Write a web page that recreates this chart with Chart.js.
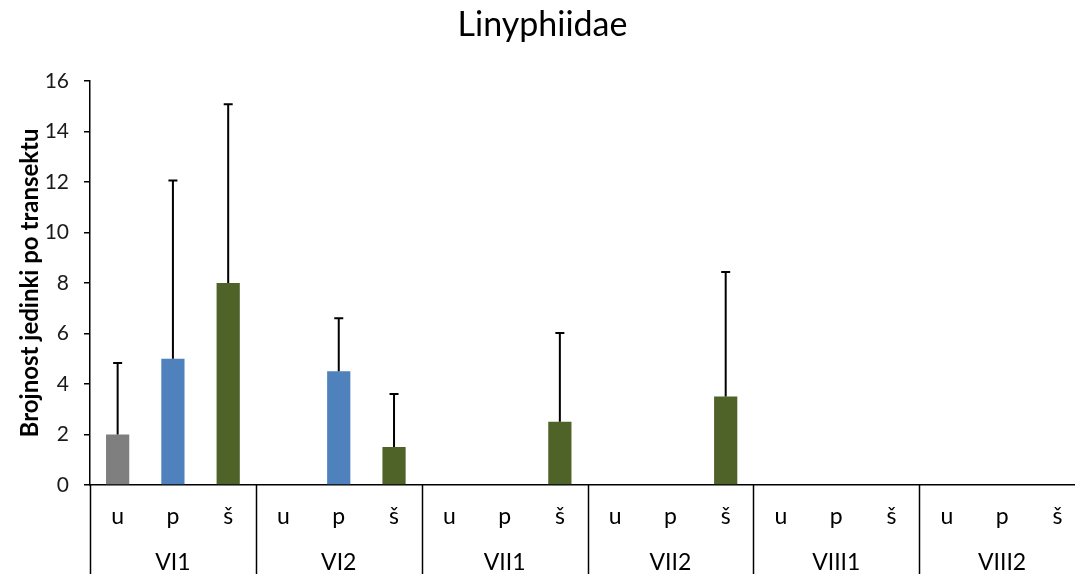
<!DOCTYPE html>
<html>
<head>
<meta charset="utf-8">
<script src="https://cdn.jsdelivr.net/npm/chart.js@4/dist/chart.umd.min.js"></script>
<style>
  html, body { margin: 0; padding: 0; background: #fff; overflow: hidden; }
  #wrap { width: 1085px; height: 574px; }
</style>
</head>
<body>
<div id="wrap"><canvas id="chart-bar"></canvas></div>
<script>
// grupe i lokacije
var groups = ["VI1", "VI2", "VII1", "VII2", "VIII1", "VIII2"];
var sites = ["u", "p", "š"];
var yTicks = [0, 2, 4, 6, 8, 10, 12, 14, 16];

// srednje vrijednosti po lokaciji
var meanU = [2, 0, 0, 0, 0, 0];
var meanP = [5, 4.5, 0, 0, 0, 0];
var meanS = [8, 1.5, 2.5, 3.5, 0, 0];

// standardna devijacija (samo gore)
var errU = [2.83, 0, 0, 0, 0, 0];
var errP = [7.05, 2.1, 0, 0, 0, 0];
var errS = [7.07, 2.1, 3.52, 4.93, 0, 0];

var siteColors = ["#7f7f7f", "#4f81bd", "#4f6228"];
var FONT = "Lato";

var labels = [], values = [], errors = [], colors = [];
groups.forEach(function (g, gi) {
  var m = [meanU[gi], meanP[gi], meanS[gi]];
  var e = [errU[gi], errP[gi], errS[gi]];
  sites.forEach(function (s, si) {
    labels.push(s);
    values.push(m[si]);
    errors.push(e[si]);
    colors.push(siteColors[si]);
  });
});

var errorBars = {
  id: "errorBars",
  afterDatasetsDraw: function (chart) {
    var ctx = chart.ctx, x = chart.scales.x, y = chart.scales.y;
    ctx.save();
    ctx.strokeStyle = "#000";
    ctx.lineWidth = 2;
    values.forEach(function (v, i) {
      if (!errors[i]) return;
      var px = x.getPixelForValue(i);
      var y0 = y.getPixelForValue(v);
      var y1 = y.getPixelForValue(v + errors[i]);
      ctx.beginPath();
      ctx.moveTo(px, y0);
      ctx.lineTo(px, y1);
      ctx.moveTo(px - 4.5, y1);
      ctx.lineTo(px + 4.5, y1);
      ctx.stroke();
    });
    ctx.restore();
  }
};

var groupAxis = {
  id: "groupAxis",
  afterDraw: function (chart) {
    var ctx = chart.ctx, x = chart.scales.x, area = chart.chartArea;
    var step = x.getPixelForValue(1) - x.getPixelForValue(0);
    ctx.save();
    ctx.fillStyle = "#000";
    ctx.textAlign = "center";
    ctx.textBaseline = "middle";
    ctx.font = "23px " + FONT;
    labels.forEach(function (l, i) {
      ctx.fillText(l, x.getPixelForValue(i), area.bottom + 32);
    });
    groups.forEach(function (g, gi) {
      ctx.fillText(g, x.getPixelForValue(gi * 3 + 1), area.bottom + 78);
    });
    ctx.strokeStyle = "#000";
    ctx.lineWidth = 1.5;
    for (var k = 0; k <= groups.length; k++) {
      var px = Math.round(x.getPixelForValue(k * 3) - step / 2) + 0.5;
      ctx.beginPath();
      ctx.moveTo(px, area.bottom);
      ctx.lineTo(px, chart.height);
      ctx.stroke();
    }
    ctx.restore();
  }
};

var ctx1 = document.getElementById("chart-bar").getContext("2d");
new Chart(ctx1, {
  type: "bar",
  data: {
    labels: labels,
    datasets: [
      {
        label: "Linyphiidae",
        data: values,
        backgroundColor: colors,
        borderWidth: 0,
        barPercentage: 0.42,
        categoryPercentage: 1,
      },
    ],
  },
  options: {
    responsive: true,
    maintainAspectRatio: false,
    animation: false,
    layout: { padding: { left: 0, right: 0, top: 0, bottom: 0 } },
    plugins: {
      legend: { display: false },
      tooltip: { enabled: false },
      title: {
        display: true,
        text: "Linyphiidae",
        color: "#000",
        font: { size: 34, family: FONT, weight: "normal", lineHeight: 1.2 },
        padding: { top: 5, bottom: 35 },
      },
    },
    scales: {
      x: {
        afterFit: function (scale) { scale.height = 89; },
        grid: { display: false, drawTicks: false },
        border: { display: true, color: "#000", width: 1.5 },
        ticks: { display: false },
      },
      y: {
        min: 0,
        max: 16,
        afterFit: function (scale) { scale.width = 90; },
        afterBuildTicks: function (scale) {
          scale.ticks = yTicks.map(function (v) { return { value: v }; });
        },
        grid: {
          display: true,
          drawOnChartArea: false,
          drawTicks: true,
          tickLength: 6,
          color: "#000",
          lineWidth: 1.5,
        },
        border: { display: true, color: "#000", width: 1.5 },
        ticks: {
          color: "#1a1a1a",
          padding: 15,
          font: { size: 21, family: FONT },
        },
        title: {
          display: true,
          text: "Brojnost jedinki po transektu",
          color: "#000",
          padding: { top: 16, bottom: 0 },
          font: { size: 24, family: FONT, weight: "bold" },
        },
      },
    },
  },
  plugins: [errorBars, groupAxis],
});
</script>
</body>
</html>
